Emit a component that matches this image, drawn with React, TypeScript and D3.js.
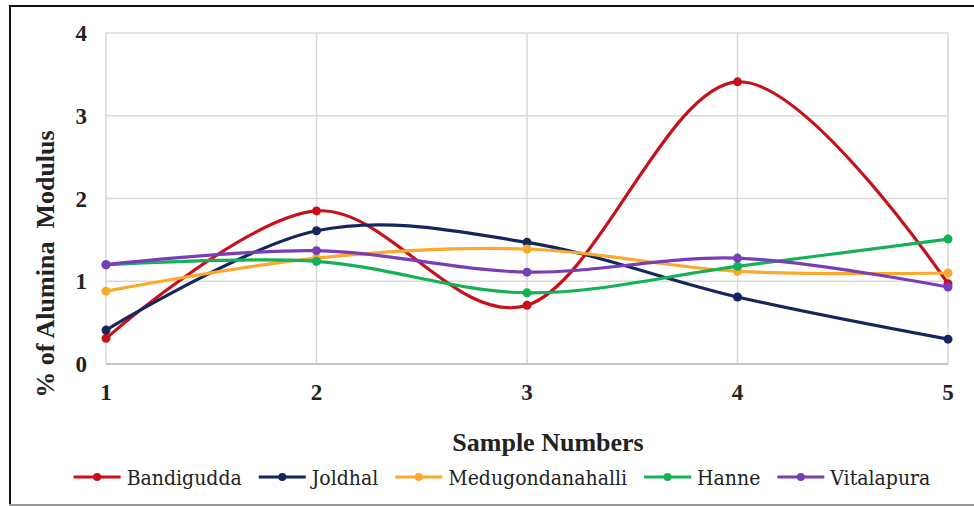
import React, { useEffect, useRef } from "react";
import * as d3 from "d3";

const samples = [1, 2, 3, 4, 5];
const bandigudda = [0.31, 1.85, 0.71, 3.41, 0.97];
const joldhal = [0.41, 1.61, 1.47, 0.81, 0.3];
const medugondanahalli = [0.88, 1.28, 1.39, 1.12, 1.1];
const hanne = [1.2, 1.24, 0.86, 1.18, 1.51];
const vitalapura = [1.2, 1.37, 1.11, 1.28, 0.93];
const yTicks = [0, 1, 2, 3, 4];

const seriesNames = ["Bandigudda", "Joldhal", "Medugondanahalli", "Hanne", "Vitalapura"];
const seriesValues = [bandigudda, joldhal, medugondanahalli, hanne, vitalapura];
const seriesColors = ["#C8101A", "#13265E", "#FBA92C", "#14B157", "#7A3DB8"];

const W = 974;
const H = 506;
const FONT = "Liberation Serif, Times New Roman, serif";
const LEGEND_FONT = "DejaVu Serif Condensed, DejaVu Serif, serif";

const App: React.FC = () => {
  const svgRef = useRef<SVGSVGElement>(null);

  useEffect(() => {
    document.body.style.margin = "0";
    if (!svgRef.current) return;
    const svg = d3.select(svgRef.current);
    svg.selectAll("*").remove();

    const x = d3.scaleLinear().domain([1, 5]).range([106, 948]);
    const y = d3.scaleLinear().domain([0, 4]).range([364, 33]);

    svg.append("rect").attr("width", W).attr("height", H).attr("fill", "#fff");

    // frame
    svg.append("line").attr("x1", 9).attr("x2", W).attr("y1", 6).attr("y2", 6)
      .attr("stroke", "#111").attr("stroke-width", 2);
    svg.append("line").attr("x1", 10).attr("x2", 10).attr("y1", 5).attr("y2", H)
      .attr("stroke", "#111").attr("stroke-width", 2);
    svg.append("line").attr("x1", 9).attr("x2", W).attr("y1", 505).attr("y2", 505)
      .attr("stroke", "#999").attr("stroke-width", 2);

    // grid
    const g = svg.append("g");
    g.selectAll(".hgrid")
      .data(yTicks.slice(1))
      .enter()
      .append("line")
      .attr("x1", x(1)).attr("x2", x(5))
      .attr("y1", d => y(d)).attr("y2", d => y(d))
      .attr("stroke", "#d9d9d9").attr("stroke-width", 1.5);
    g.selectAll(".vgrid")
      .data(samples)
      .enter()
      .append("line")
      .attr("x1", d => x(d)).attr("x2", d => x(d))
      .attr("y1", y(4)).attr("y2", y(0))
      .attr("stroke", "#d9d9d9").attr("stroke-width", 1.5);
    g.append("line")
      .attr("x1", x(1)).attr("x2", x(5))
      .attr("y1", y(0)).attr("y2", y(0))
      .attr("stroke", "#c4c4c4").attr("stroke-width", 2);

    // tick labels
    g.selectAll(".ylab")
      .data(yTicks)
      .enter()
      .append("text")
      .attr("x", 87)
      .attr("y", d => y(d) + 8)
      .attr("text-anchor", "end")
      .attr("font-family", FONT)
      .attr("font-weight", "bold")
      .attr("font-size", 23)
      .attr("fill", "#222")
      .text(d => d);
    g.selectAll(".xlab")
      .data(samples)
      .enter()
      .append("text")
      .attr("x", d => x(d))
      .attr("y", 400)
      .attr("text-anchor", "middle")
      .attr("font-family", FONT)
      .attr("font-weight", "bold")
      .attr("font-size", 23)
      .attr("fill", "#222")
      .text(d => d);

    // axis titles
    svg.append("text")
      .attr("transform", "translate(54,264) rotate(-90)")
      .attr("text-anchor", "middle")
      .attr("font-family", FONT)
      .attr("font-weight", "bold")
      .attr("font-size", 26)
      .attr("fill", "#222")
      .style("white-space", "pre")
      .text("% of Alumina  Modulus");
    svg.append("text")
      .attr("x", 548)
      .attr("y", 451)
      .attr("text-anchor", "middle")
      .attr("font-family", FONT)
      .attr("font-weight", "bold")
      .attr("font-size", 26)
      .attr("fill", "#222")
      .text("Sample Numbers");

    // series
    const line = d3.line<number>()
      .x((_, i) => x(samples[i]))
      .y(d => y(d))
      .curve(d3.curveCardinal.tension(0));

    seriesValues.forEach((vals, si) => {
      const color = seriesColors[si];
      const sg = svg.append("g");
      sg.append("path")
        .attr("d", line(vals) || "")
        .attr("fill", "none")
        .attr("stroke", color)
        .attr("stroke-width", 3.2);
      sg.selectAll("circle")
        .data(vals)
        .enter()
        .append("circle")
        .attr("cx", (_, i) => x(samples[i]))
        .attr("cy", d => y(d))
        .attr("r", 4.5)
        .attr("fill", color);
    });

    // legend
    const leg = svg.append("g");
    let cx = 0;
    seriesNames.forEach((name, si) => {
      const item = leg.append("g").attr("transform", `translate(${cx},0)`);
      item.append("line")
        .attr("x1", 0).attr("x2", 47)
        .attr("y1", 477).attr("y2", 477)
        .attr("stroke", seriesColors[si]).attr("stroke-width", 3.2);
      item.append("circle")
        .attr("cx", 23.5).attr("cy", 477).attr("r", 4)
        .attr("fill", seriesColors[si]);
      const t = item.append("text")
        .attr("x", 53)
        .attr("y", 485)
        .attr("font-family", LEGEND_FONT)
        .attr("font-size", 21)
        .attr("fill", "#222")
        .text(name);
      const tw = (t.node() as SVGTextElement).getComputedTextLength();
      cx += 53 + tw + 17;
    });
    const legW = cx - 17;
    leg.attr("transform", `translate(${502 - legW / 2},0)`);
  }, []);

  return (
    <svg ref={svgRef} width={W} height={H} style={{ display: "block" }} />
  );
};

export default App;
